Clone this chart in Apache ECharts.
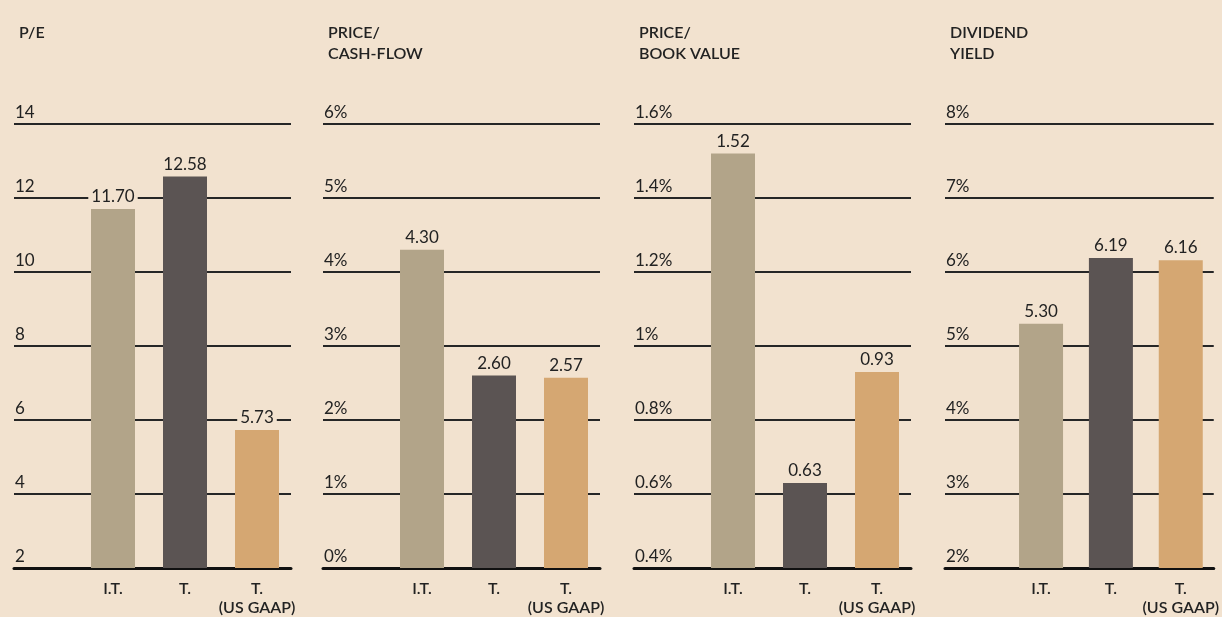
<!DOCTYPE html>
<html>
<head>
<meta charset="utf-8">
<script src="https://cdn.jsdelivr.net/npm/echarts@6/dist/echarts.min.js"></script>
<style>
  html, body { margin: 0; padding: 0; background: #F2E2CF; }
  #chart { width: 1222px; height: 617px; }
</style>
</head>
<body>
<div id="chart"></div>
<script>
// categories and values
var categories = ['I.T.', 'T.', 'T.\n(US GAAP)'];
var panelTitles = ['P/E', 'PRICE/\nCASH-FLOW', 'PRICE/\nBOOK VALUE', 'DIVIDEND\nYIELD'];
var peValues = [11.70, 12.58, 5.73];
var cashFlowValues = [4.30, 2.60, 2.57];
var bookValues = [1.52, 0.63, 0.93];
var yieldValues = [5.30, 6.19, 6.16];
// axis ranges: [min, max, interval, suffix]
var axisRanges = [
    [2, 14, 2, ''],
    [0, 6, 1, '%'],
    [0.4, 1.6, 0.2, '%'],
    [2, 8, 1, '%']
];
var barColors = ['#B2A489', '#5B5453', '#D5A772'];
var bg = '#F2E2CF';
var ink = '#222';
var font = 'Lato';

var chart = echarts.init(document.getElementById('chart'));

var allValues = [peValues, cashFlowValues, bookValues, yieldValues];
var lefts = [14, 323, 634, 945];
var width = 277;

var grids = [], xAxes = [], yAxes = [], series = [], titles = [];

allValues.forEach(function (vals, i) {
    grids.push({ left: lefts[i], top: 124, width: width, height: 447 });
    titles.push({
        text: panelTitles[i],
        left: lefts[i],
        top: 17,
        textStyle: { fontFamily: font, fontSize: 16, fontWeight: 600, color: ink, lineHeight: 21 }
    });
    // bars sit at 1, 2, 3; the room left of 1 holds the tick labels
    xAxes.push({
        type: 'value',
        gridIndex: i,
        min: -0.375,
        max: -0.375 + width / 72,
        splitLine: { show: false },
        axisLine: { onZero: false, lineStyle: { color: '#111', width: 3 } },
        axisTick: { show: false },
        axisLabel: {
            customValues: [1, 2, 3],
            margin: 11,
            fontFamily: font,
            fontSize: 16,
            fontWeight: 600,
            color: ink,
            lineHeight: 19,
            formatter: function (v) { return categories[Math.round(v) - 1]; }
        }
    });
    var r = axisRanges[i];
    yAxes.push({
        type: 'value',
        gridIndex: i,
        min: r[0],
        max: r[1],
        interval: r[2],
        axisLine: { show: false },
        axisTick: { show: false },
        splitLine: { lineStyle: { color: '#262626', width: 1.8 } },
        axisLabel: {
            inside: true,
            margin: 1,
            verticalAlign: 'bottom',
            padding: [0, 0, 3, 0],
            fontFamily: font,
            fontSize: 17,
            color: ink,
            formatter: function (v) {
                return parseFloat(v.toFixed(1)) + r[3];
            }
        }
    });
    series.push({
        type: 'bar',
        xAxisIndex: i,
        yAxisIndex: i,
        barWidth: 44,
        data: vals.map(function (v, j) {
            return { value: [j + 1, v], itemStyle: { color: barColors[j] } };
        }),
        label: {
            show: true,
            position: 'top',
            distance: 3,
            fontFamily: font,
            fontSize: 17,
            color: ink,
            backgroundColor: bg,
            padding: [1, 3],
            formatter: function (p) { return p.value[1].toFixed(2); }
        }
    });
});

chart.setOption({
    backgroundColor: bg,
    animation: false,
    title: titles,
    grid: grids,
    xAxis: xAxes,
    yAxis: yAxes,
    series: series
});
</script>
</body>
</html>
